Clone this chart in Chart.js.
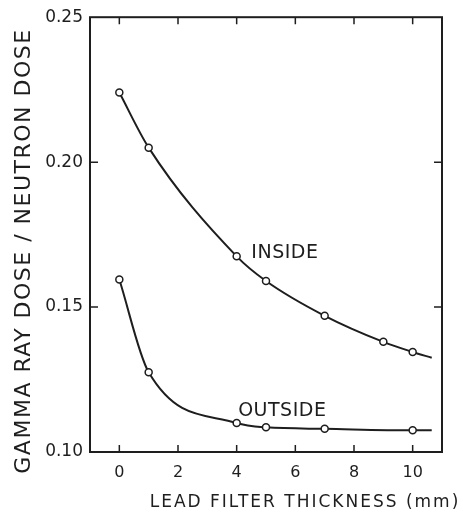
<!DOCTYPE html>
<html>
<head>
<meta charset="utf-8">
<script src="https://cdn.jsdelivr.net/npm/chart.js@4.4.0/dist/chart.umd.min.js"></script>
<style>
html,body{margin:0;padding:0;background:#fff;}
</style>
</head>
<body>
<canvas id="cnvDosis" width="463" height="512"></canvas>
<script>
// lead filter thickness (mm) and dose ratio
var insideX = [0, 1, 4, 5, 7, 9, 10, 10.65];
var insideY = [0.224, 0.205, 0.1675, 0.159, 0.147, 0.138, 0.1345, 0.1325];
var outsideX = [0, 1, 4, 5, 7, 10, 10.65];
var outsideY = [0.1595, 0.1275, 0.110, 0.1085, 0.108, 0.1075, 0.1075];
var xTicks = [0, 2, 4, 6, 8, 10];
var yTicks = [0.10, 0.15, 0.20, 0.25];
var xTitle = "LEAD FILTER THICKNESS (mm)";
var yTitle = "GAMMA RAY DOSE / NEUTRON DOSE";
var curveLabels = [
	{text: "INSIDE", x: 4.5, y: 0.1685},
	{text: "OUTSIDE", x: 4.05, y: 0.114}
];

var ink = "#1e1e1e";
var fontFam = "'DejaVu Sans', sans-serif";

function toPoints(xs, ys){
	return xs.map(function(v, i){ return {x: v, y: ys[i]}; });
}
// last point only extends the line, no marker
function radii(xs){
	return xs.map(function(v, i){ return i == xs.length - 1 ? 0 : 3.5; });
}

var marcoPlugin = {
	id: "marco",
	afterDraw: function(chart){
		var ctx = chart.ctx;
		var a = chart.chartArea;
		var sx = chart.scales.x, sy = chart.scales.y;
		ctx.save();
		ctx.strokeStyle = ink;
		ctx.lineWidth = 2;
		ctx.strokeRect(a.left, a.top, a.right - a.left, a.bottom - a.top);
		ctx.lineWidth = 1.5;
		ctx.beginPath();
		xTicks.forEach(function(v){
			var px = sx.getPixelForValue(v);
			ctx.moveTo(px, a.bottom); ctx.lineTo(px, a.bottom - 7);
			ctx.moveTo(px, a.top); ctx.lineTo(px, a.top + 7);
		});
		yTicks.slice(1, -1).forEach(function(v){
			var py = sy.getPixelForValue(v);
			ctx.moveTo(a.left, py); ctx.lineTo(a.left + 8, py);
			ctx.moveTo(a.right, py); ctx.lineTo(a.right - 8, py);
		});
		ctx.stroke();

		ctx.fillStyle = ink;
		ctx.textBaseline = "middle";
		ctx.textAlign = "left";
		ctx.font = "19px " + fontFam;
		ctx.letterSpacing = "0.5px";
		curveLabels.forEach(function(l){
			ctx.fillText(l.text, sx.getPixelForValue(l.x), sy.getPixelForValue(l.y));
		});

		// axis titles
		ctx.textAlign = "center";
		ctx.font = "17px " + fontFam;
		ctx.letterSpacing = "2px";
		ctx.fillText(xTitle, 305, 503);
		ctx.save();
		ctx.translate(24, 251);
		ctx.rotate(-Math.PI / 2);
		ctx.font = "22px " + fontFam;
		ctx.letterSpacing = "1.5px";
		ctx.fillText(yTitle, 0, 0);
		ctx.restore();
		ctx.restore();
	}
};

function serie(label, xs, ys){
	return {
		label: label,
		data: toPoints(xs, ys),
		borderColor: ink,
		borderWidth: 2,
		backgroundColor: "#fff",
		pointBackgroundColor: "#fff",
		pointBorderColor: ink,
		pointBorderWidth: 1.5,
		pointRadius: radii(xs),
		cubicInterpolationMode: "monotone",
		fill: false
	};
}

new Chart(document.getElementById("cnvDosis").getContext("2d"), {
	type: "line",
	data: {
		datasets: [
			serie("Inside", insideX, insideY),
			serie("Outside", outsideX, outsideY)
		]
	},
	options: {
		responsive: false,
		animation: false,
		layout: {padding: {top: 14, right: 21, left: 0, bottom: 0}},
		plugins: {legend: {display: false}, tooltip: {enabled: false}},
		scales: {
			x: {
				type: "linear",
				min: -1,
				max: 11,
				grid: {display: false, drawTicks: false},
				border: {display: false},
				afterBuildTicks: function(s){ s.ticks = xTicks.map(function(v){ return {value: v}; }); },
				afterFit: function(s){ s.height = 60; },
				ticks: {color: ink, font: {family: fontFam, size: 16}, padding: 11, maxRotation: 0}
			},
			y: {
				type: "linear",
				min: 0.10,
				max: 0.25,
				grid: {display: false, drawTicks: false},
				border: {display: false},
				afterBuildTicks: function(s){ s.ticks = yTicks.map(function(v){ return {value: v}; }); },
				afterFit: function(s){ s.width = 90; },
				ticks: {color: ink, font: {family: fontFam, size: 17}, padding: 7,
					callback: function(v){ return v.toFixed(2); }}
			}
		}
	},
	plugins: [marcoPlugin]
});
</script>
</body>
</html>
